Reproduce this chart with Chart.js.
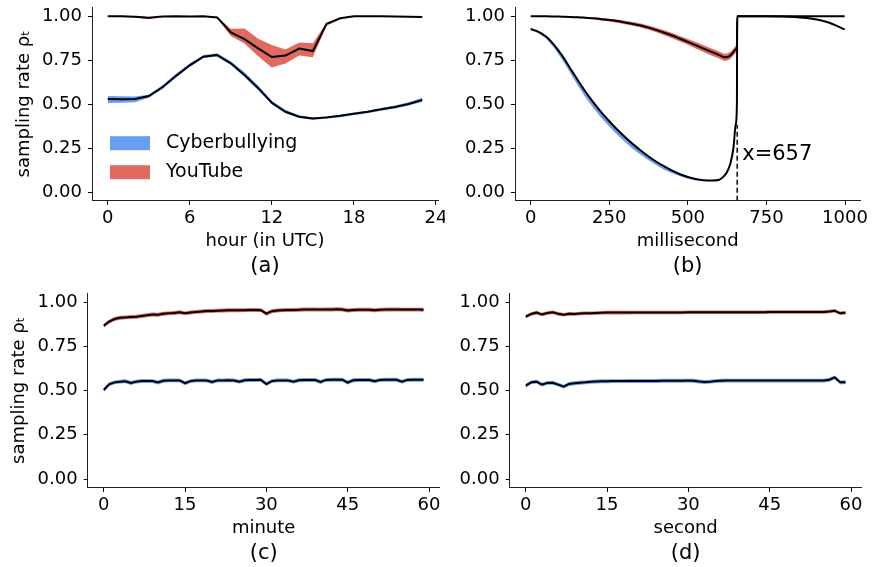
<!DOCTYPE html>
<html><head><meta charset="utf-8">
<script src="https://cdn.jsdelivr.net/npm/chart.js@4.4.0/dist/chart.umd.min.js"></script>
<style>
html,body{margin:0;padding:0;background:#fff;width:873px;height:567px;overflow:hidden;}
canvas{position:absolute;}
</style></head><body>
<canvas id="ca" width="445" height="283" style="left:0;top:0"></canvas>
<canvas id="cb" width="428" height="283" style="left:445px;top:0"></canvas>
<canvas id="cc" width="445" height="284" style="left:0;top:283px"></canvas>
<canvas id="cd" width="428" height="284" style="left:445px;top:283px"></canvas>
<script>
// ---------- shared ----------
const yTickValues = [0, 0.25, 0.5, 0.75, 1.0];
const yTickLabels = ['0.00', '0.25', '0.50', '0.75', '1.00'];
const seriesNames = ['Cyberbullying', 'YouTube'];
const yLabel = 'sampling rate ρₜ';

// ---------- (a) hour ----------
const aHours = [0,1,2,3,4,5,6,7,8,9,10,11,12,13,14,15,16,17,18,19,20,21,22,23];
const aTicks = [0, 6, 12, 18, 24];
const aCyberMean = [0.528,0.527,0.528,0.545,0.595,0.66,0.72,0.769,0.778,0.731,0.665,0.59,0.507,0.456,0.428,0.417,0.424,0.433,0.445,0.456,0.47,0.483,0.5,0.523];
const aCyberLo   = [0.022,0.02,0.018,0.01,0.01,0.01,0.008,0.007,0.008,0.01,0.01,0.01,0.01,0.008,0.007,0.006,0.008,0.008,0.008,0.008,0.008,0.008,0.009,0.01];
const aCyberHi   = [0.018,0.017,0.015,0.008,0.012,0.012,0.012,0.01,0.01,0.012,0.015,0.015,0.012,0.01,0.008,0.006,0.005,0.006,0.006,0.006,0.007,0.008,0.01,0.012];
const aYouMean   = [0.998,0.998,0.996,0.99,0.997,0.998,0.997,0.998,0.992,0.907,0.869,0.816,0.767,0.775,0.815,0.801,0.955,0.987,0.998,0.998,0.998,0.997,0.996,0.995];
const aYouLo     = [0.003,0.003,0.005,0.008,0.003,0.002,0.003,0.002,0.004,0.02,0.025,0.045,0.06,0.045,0.04,0.035,0.01,0.005,0.003,0.002,0.002,0.002,0.002,0.002];
const aYouHi     = [0.002,0.002,0.003,0.004,0.002,0.002,0.002,0.002,0.004,0.02,0.06,0.055,0.068,0.035,0.035,0.044,0.008,0.004,0.002,0.002,0.002,0.002,0.002,0.002];

// ---------- (b) millisecond ----------
const bMs = [0,25,50,75,100,125,150,175,200,225,250,275,300,325,350,375,400,425,450,475,500,525,550,575,600,615,625,635,645,652,656,657,700,750,800,850,900,950,999];
const bTicks = [0, 250, 500, 750, 1000];
const bCyberMean = [0.926,0.91,0.882,0.835,0.775,0.705,0.635,0.568,0.508,0.452,0.402,0.355,0.312,0.272,0.236,0.202,0.172,0.145,0.121,0.101,0.085,0.074,0.067,0.065,0.07,0.09,0.115,0.16,0.25,0.38,0.49,0.998,0.998,0.998,0.997,0.993,0.983,0.962,0.924];
const bCyberLo   = [0.005,0.008,0.012,0.018,0.022,0.026,0.03,0.032,0.032,0.032,0.03,0.03,0.028,0.027,0.025,0.022,0.02,0.018,0.015,0.012,0.01,0.008,0.005,0.003,0.002,0.001,0,0,0,0,0,0,0,0,0,0,0,0,0];
const bCyberHi   = [0.004,0.004,0.004,0.004,0.004,0.004,0.004,0.004,0.004,0.004,0.004,0.004,0.004,0.004,0.004,0.004,0.004,0.004,0.004,0.004,0.004,0.003,0.003,0.002,0.001,0,0,0,0,0,0,0,0,0,0,0,0,0,0];
const bYouMean   = [0.998,0.998,0.998,0.997,0.996,0.995,0.993,0.99,0.987,0.982,0.977,0.971,0.963,0.955,0.946,0.934,0.92,0.905,0.889,0.871,0.853,0.834,0.815,0.796,0.778,0.766,0.767,0.776,0.795,0.81,0.825,0.999,0.999,0.999,0.999,0.999,0.999,0.999,0.999];
const bYouSpread = [0.002,0.002,0.002,0.002,0.002,0.003,0.004,0.005,0.006,0.007,0.008,0.009,0.01,0.011,0.011,0.012,0.013,0.014,0.015,0.016,0.017,0.018,0.019,0.02,0.02,0.02,0.02,0.02,0.02,0.02,0.02,0,0,0,0,0,0,0,0];
const bMarkX = 657;
const bMarkRange = [-0.05, 0.38];
const bMarkLabel = 'x=657';
const bMarkLabelY = 0.21;

// ---------- (c) minute / (d) second ----------
const cMinutes = Array.from({length: 60}, (_, i) => i);
const dSeconds = Array.from({length: 60}, (_, i) => i);
const cdTicks = [0, 15, 30, 45, 60];
const cYouMean = [0.866,0.889,0.904,0.911,0.913,0.915,0.917,0.921,0.925,0.929,0.928,0.934,0.936,0.938,0.942,0.936,0.941,0.944,0.946,0.949,0.949,0.951,0.952,0.953,0.953,0.953,0.954,0.955,0.955,0.954,0.934,0.948,0.952,0.954,0.955,0.955,0.956,0.958,0.958,0.958,0.957,0.958,0.958,0.959,0.958,0.952,0.955,0.956,0.956,0.956,0.953,0.956,0.957,0.958,0.958,0.957,0.957,0.957,0.957,0.956];
const cCyberMean = [0.503,0.535,0.546,0.55,0.552,0.542,0.55,0.554,0.554,0.553,0.545,0.555,0.557,0.557,0.557,0.541,0.553,0.557,0.557,0.556,0.548,0.557,0.557,0.558,0.557,0.55,0.558,0.559,0.559,0.56,0.536,0.553,0.557,0.557,0.557,0.55,0.558,0.559,0.559,0.559,0.548,0.56,0.561,0.561,0.561,0.545,0.558,0.559,0.559,0.559,0.552,0.56,0.561,0.561,0.561,0.55,0.56,0.561,0.561,0.561];
const dYouMean = [0.917,0.932,0.94,0.929,0.938,0.942,0.933,0.928,0.933,0.932,0.935,0.936,0.937,0.938,0.939,0.94,0.94,0.94,0.94,0.94,0.941,0.941,0.941,0.941,0.941,0.941,0.941,0.941,0.941,0.941,0.942,0.942,0.942,0.942,0.942,0.942,0.942,0.942,0.942,0.942,0.942,0.942,0.942,0.942,0.942,0.943,0.943,0.943,0.943,0.943,0.943,0.943,0.943,0.943,0.943,0.943,0.946,0.95,0.936,0.94];
const dCyberMean = [0.527,0.546,0.55,0.533,0.543,0.544,0.533,0.522,0.537,0.541,0.544,0.546,0.549,0.551,0.552,0.552,0.553,0.553,0.553,0.554,0.554,0.554,0.554,0.554,0.554,0.555,0.555,0.555,0.555,0.555,0.556,0.555,0.551,0.548,0.55,0.553,0.555,0.556,0.556,0.556,0.556,0.556,0.556,0.556,0.556,0.556,0.556,0.556,0.556,0.556,0.556,0.556,0.556,0.556,0.556,0.556,0.561,0.574,0.546,0.547];
const cYouSpread = 0.011, cCyberSpread = 0.011, dYouSpread = 0.01, dCyberSpread = 0.011;

// ---------- styling ----------
const FONT = 'DejaVu Sans';
const BLUE = '#689ef0';
const RED = '#e06a5f';
Chart.defaults.color = '#000';
Chart.defaults.font.family = FONT;

const insideLegend = {
  id: 'insideLegend',
  afterDatasetsDraw(chart, args, opts) {
    if (!opts || !opts.items) return;
    const {ctx, chartArea} = chart;
    ctx.save();
    ctx.font = '19px "' + FONT + '"';
    ctx.textBaseline = 'middle';
    opts.items.forEach((it, i) => {
      const y = chartArea.top + opts.top + i * opts.gap;
      ctx.fillStyle = it.color;
      ctx.fillRect(chartArea.left + opts.left, y, 40, 14);
      ctx.fillStyle = '#000';
      ctx.fillText(it.text, chartArea.left + opts.left + 56, y + 7);
    });
    ctx.restore();
  }
};
const markLabel = {
  id: 'markLabel',
  afterDatasetsDraw(chart, args, opts) {
    if (!opts || !opts.text) return;
    const {ctx, scales} = chart;
    ctx.save();
    ctx.font = '21px "' + FONT + '"';
    ctx.textBaseline = 'middle';
    ctx.textAlign = 'left';
    ctx.fillStyle = '#000';
    ctx.fillText(opts.text, scales.x.getPixelForValue(opts.x) + 5, scales.y.getPixelForValue(opts.y));
    ctx.restore();
  }
};

function pts(xs, ys) { return xs.map((x, i) => ({x: x, y: ys[i]})); }
function band(xs, mean, lo, hi, color, name) {
  const l = (i) => Array.isArray(lo) ? lo[i] : lo;
  const h = (i) => Array.isArray(hi) ? hi[i] : hi;
  return [
    {label: name, data: xs.map((x, i) => ({x: x, y: mean[i] + h(i)})), borderWidth: 0, pointRadius: 0,
     backgroundColor: color, borderColor: color, fill: '+1', order: 10, tension: 0},
    {label: name + ' lo', data: xs.map((x, i) => ({x: x, y: mean[i] - l(i)})), borderWidth: 0, pointRadius: 0,
     backgroundColor: color, borderColor: color, fill: false, order: 10, tension: 0}
  ];
}
function meanLine(xs, ys, extra) {
  return Object.assign({data: pts(xs, ys), borderColor: '#000', borderWidth: 2, pointRadius: 0, fill: false, order: 0, tension: 0}, extra || {});
}

function makeChart(id, p) {
  return new Chart(document.getElementById(id), {
    type: 'line',
    data: {datasets: p.datasets},
    plugins: [insideLegend, markLabel],
    options: {
      responsive: false, animation: false, devicePixelRatio: 1,
      layout: {padding: p.padding},
      plugins: {
        legend: {display: false}, tooltip: {enabled: false},
        title: {display: true, text: p.title, position: 'bottom', fullSize: false,
                font: {size: 21, family: FONT, weight: 'normal'}, color: '#000', padding: {top: 2, bottom: 0}},
        insideLegend: p.legend || {},
        markLabel: p.mark || {}
      },
      scales: {
        x: {
          type: 'linear', min: p.xmin, max: p.xmax,
          afterBuildTicks: (s) => { s.ticks = p.xticks.map(v => ({value: v})); },
          afterFit: (s) => { s.height = 51; s.paddingLeft = 0; s.paddingRight = 0; s.paddingTop = 0; s.paddingBottom = 0; },
          grid: {display: true, drawOnChartArea: false, drawTicks: true, tickLength: 4, color: '#000', lineWidth: 1},
          border: {display: true, color: '#222', width: 1},
          ticks: {font: {size: 18, family: FONT}, color: '#000', padding: 3, maxRotation: 0, autoSkip: false,
                  callback: (v) => String(v)},
          title: {display: true, text: p.xtitle, font: {size: 18, family: FONT}, color: '#000', padding: {top: 0, bottom: 0}}
        },
        y: {
          type: 'linear', min: -0.05, max: 1.05,
          afterBuildTicks: (s) => { s.ticks = yTickValues.map(v => ({value: v})); },
          afterFit: (s) => { s.width = p.ywidth; s.paddingTop = 0; s.paddingBottom = 0; s.paddingLeft = 0; s.paddingRight = 0; },
          grid: {display: true, drawOnChartArea: false, drawTicks: true, tickLength: 4, color: '#000', lineWidth: 1},
          border: {display: true, color: '#222', width: 1},
          ticks: {font: {size: 18, family: FONT}, color: '#000', padding: 6, autoSkip: false,
                  callback: (v) => yTickLabels[yTickValues.indexOf(v)]},
          title: {display: !!p.ytitle, text: p.ytitle || '', font: {size: 18, family: FONT}, color: '#000', padding: {top: p.ytitlePad || 0, bottom: 0}}
        }
      }
    }
  });
}

// (a)
makeChart('ca', {
  datasets: [
    ...band(aHours, aCyberMean, aCyberLo, aCyberHi, BLUE, seriesNames[0]),
    ...band(aHours, aYouMean, aYouLo, aYouHi, RED, seriesNames[1]),
    meanLine(aHours, aCyberMean), meanLine(aHours, aYouMean)
  ],
  padding: {left: 0, top: 7.2, right: 7, bottom: 4},
  xmin: -1.15, xmax: 24.15, xticks: aTicks, xtitle: 'hour (in UTC)', title: '(a)',
  ywidth: 92, ytitle: yLabel, ytitlePad: 13.7,
  legend: {items: [{text: seriesNames[0], color: BLUE}, {text: seriesNames[1], color: RED}], left: 18, top: 129, gap: 29}
});

// (b)
makeChart('cb', {
  datasets: [
    ...band(bMs, bCyberMean, bCyberLo, bCyberHi, BLUE, seriesNames[0]),
    ...band(bMs, bYouMean, bYouSpread, bYouSpread, RED, seriesNames[1]),
    meanLine(bMs, bCyberMean, {cubicInterpolationMode: 'monotone'}),
    meanLine(bMs, bYouMean, {cubicInterpolationMode: 'monotone'}),
    {data: [{x: bMarkX, y: bMarkRange[0]}, {x: bMarkX, y: bMarkRange[1]}], borderColor: '#000', borderWidth: 1.5,
     borderDash: [5, 3], pointRadius: 0, fill: false, order: 0}
  ],
  padding: {left: 0, top: 7.2, right: 12.6, bottom: 4},
  xmin: -49.95, xmax: 1048.95, xticks: bTicks, xtitle: 'millisecond', title: '(b)',
  ywidth: 70,
  mark: {text: bMarkLabel, x: bMarkX, y: bMarkLabelY}
});

// (c)
makeChart('cc', {
  datasets: [
    ...band(cMinutes, cCyberMean, cCyberSpread, cCyberSpread, BLUE, seriesNames[0]),
    ...band(cMinutes, cYouMean, cYouSpread, cYouSpread, RED, seriesNames[1]),
    meanLine(cMinutes, cCyberMean), meanLine(cMinutes, cYouMean)
  ],
  padding: {left: 0, top: 10.15, right: 5.4, bottom: 0.95},
  xmin: -2.95, xmax: 61.95, xticks: cdTicks, xtitle: 'minute', title: '(c)',
  ywidth: 87.7, ytitle: yLabel, ytitlePad: 8.7
});

// (d)
makeChart('cd', {
  datasets: [
    ...band(dSeconds, dCyberMean, dCyberSpread, dCyberSpread, BLUE, seriesNames[0]),
    ...band(dSeconds, dYouMean, dYouSpread, dYouSpread, RED, seriesNames[1]),
    meanLine(dSeconds, dCyberMean), meanLine(dSeconds, dYouMean)
  ],
  padding: {left: 0, top: 10.15, right: 11.4, bottom: 0.95},
  xmin: -2.95, xmax: 61.95, xticks: cdTicks, xtitle: 'second', title: '(d)',
  ywidth: 64.7
});
</script>
</body></html>
